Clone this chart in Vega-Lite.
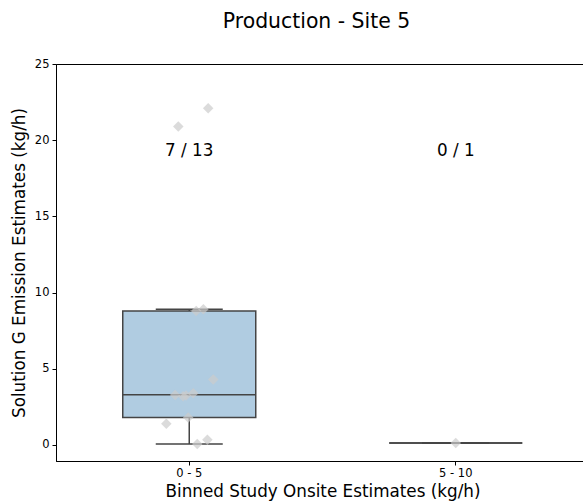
{
  "$schema": "https://vega.github.io/schema/vega-lite/v6.json",
  "width": 533,
  "height": 397,
  "autosize": {"type": "none"},
  "padding": {"left": 56, "top": 64, "right": 0, "bottom": 41},
  "title": {"text": "Production - Site 5", "fontSize": 20.4, "font": "DejaVu Sans", "fontWeight": "normal", "color": "#000", "offset": 26, "dx": -6},
  "config": {
    "view": {"stroke": "#000", "strokeWidth": 1},
    "font": "DejaVu Sans",
    "axis": {"grid": false, "domainColor": "#000", "tickColor": "#000", "labelColor": "#000", "titleColor": "#000", "titleFontWeight": "normal", "labelFont": "DejaVu Sans", "titleFont": "DejaVu Sans"}
  },
  "datasets": {
    "boxes": [
      {"bin": "0 - 5", "q1": 1.8, "median": 3.3, "q3": 8.8, "lower": 0.07, "upper": 8.9, "label": "7 / 13"},
      {"bin": "5 - 10", "q1": 0.13, "median": 0.13, "q3": 0.13, "lower": 0.13, "upper": 0.13, "label": "0 / 1"}
    ],
    "points": [
      {"bin": "0 - 5", "value": 22.1, "jitter": 0.071},
      {"bin": "0 - 5", "value": 20.9, "jitter": -0.041},
      {"bin": "0 - 5", "value": 8.9, "jitter": 0.053},
      {"bin": "0 - 5", "value": 8.8, "jitter": 0.026},
      {"bin": "0 - 5", "value": 4.3, "jitter": 0.09},
      {"bin": "0 - 5", "value": 3.4, "jitter": 0.015},
      {"bin": "0 - 5", "value": 3.25, "jitter": -0.012},
      {"bin": "0 - 5", "value": 3.2, "jitter": -0.023},
      {"bin": "0 - 5", "value": 3.28, "jitter": -0.053},
      {"bin": "0 - 5", "value": 1.8, "jitter": -0.004},
      {"bin": "0 - 5", "value": 1.4, "jitter": -0.086},
      {"bin": "0 - 5", "value": 0.35, "jitter": 0.068},
      {"bin": "0 - 5", "value": 0.07, "jitter": 0.03},
      {"bin": "5 - 10", "value": 0.13, "jitter": 0.0}
    ]
  },
  "encoding": {
    "x": {"field": "bin", "type": "nominal", "sort": ["0 - 5", "5 - 10"],
      "scale": {"domain": ["0 - 5", "5 - 10"], "paddingInner": 0, "paddingOuter": 0},
      "axis": {"title": "Binned Study Onsite Estimates (kg/h)", "labelAngle": 0, "labelFontSize": 11.5, "titleFontSize": 16.8, "tickSize": 4, "labelPadding": 2, "titlePadding": 5, "domain": true}
    }
  },
  "layer": [
    {
      "data": {"name": "boxes"},
      "mark": {"type": "rule", "color": "#444", "strokeWidth": 1.5},
      "encoding": {
        "y": {"field": "lower", "type": "quantitative",
          "scale": {"domain": [-1.05, 25], "nice": false, "zero": false},
          "axis": {"title": "Solution G Emission Estimates (kg/h)", "values": [0, 5, 10, 15, 20, 25], "labelFontSize": 11.5, "titleFontSize": 16.8, "tickSize": 4, "labelPadding": 3, "titlePadding": 6}},
        "y2": {"field": "q1"}
      }
    },
    {
      "data": {"name": "boxes"},
      "mark": {"type": "rule", "color": "#444", "strokeWidth": 1.5},
      "encoding": {
        "y": {"field": "q3", "type": "quantitative"},
        "y2": {"field": "upper"}
      }
    },
    {
      "data": {"name": "boxes"},
      "mark": {"type": "bar", "size": 133, "fill": "#b0cce1", "stroke": "#444", "strokeWidth": 1.5},
      "encoding": {
        "y": {"field": "q1", "type": "quantitative"},
        "y2": {"field": "q3"}
      }
    },
    {
      "data": {"name": "boxes"},
      "mark": {"type": "tick", "color": "#444", "size": 133, "thickness": 1.5, "opacity": 1},
      "encoding": {"y": {"field": "median", "type": "quantitative"}}
    },
    {
      "data": {"name": "boxes"},
      "mark": {"type": "tick", "color": "#444", "size": 67, "thickness": 1.5, "opacity": 1},
      "encoding": {"y": {"field": "lower", "type": "quantitative"}}
    },
    {
      "data": {"name": "boxes"},
      "mark": {"type": "tick", "color": "#444", "size": 67, "thickness": 1.5, "opacity": 1},
      "encoding": {"y": {"field": "upper", "type": "quantitative"}}
    },
    {
      "data": {"name": "points"},
      "mark": {"type": "point", "shape": "diamond", "filled": true, "size": 110, "color": "#cccccc", "opacity": 0.7},
      "encoding": {
        "y": {"field": "value", "type": "quantitative"},
        "xOffset": {"field": "jitter", "type": "quantitative", "scale": {"domain": [-0.5, 0.5], "range": [0, 266.5]}}
      }
    },
    {
      "data": {"name": "boxes"},
      "mark": {"type": "text", "fontSize": 16.8, "color": "#000", "font": "DejaVu Sans", "baseline": "middle"},
      "encoding": {
        "y": {"datum": 19.3, "type": "quantitative"},
        "text": {"field": "label", "type": "nominal"}
      }
    }
  ]
}
